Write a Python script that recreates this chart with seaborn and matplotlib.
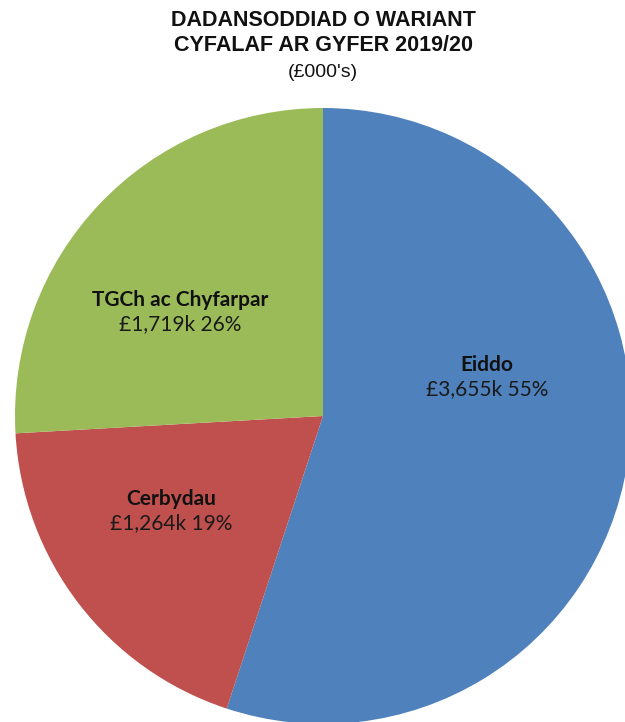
import matplotlib
matplotlib.use("Agg")
import matplotlib.pyplot as plt
import seaborn as sns

# Data (values in £000's)
categories = ["Eiddo", "Cerbydau", "TGCh ac Chyfarpar"]
values = [3655, 1264, 1719]
value_labels = ["£3,655k 55%", "£1,264k 19%", "£1,719k 26%"]
colors = ["#4F81BD", "#C0504D", "#9BBB59"]

sns.set_style("white")
plt.rcParams["font.family"] = ["Liberation Sans", "DejaVu Sans"]

fig = plt.figure(figsize=(6.25, 7.22), dpi=100)

# title block
fig.text(0.517, 0.972, "DADANSODDIAD O WARIANT", ha="center", va="center",
         fontsize=15.5, fontweight="bold", color="#111111")
fig.text(0.517, 0.937, "CYFALAF AR GYFER 2019/20", ha="center", va="center",
         fontsize=15.5, fontweight="bold", color="#111111")
fig.text(0.517, 0.900, "(£000's)", ha="center", va="center",
         fontsize=14, color="#111111")

# pie axes: centre approx (323, 416) px, radius approx 308 px
ax = fig.add_axes([15 / 625, -2 / 722, 616 / 625, 616 / 722])
ax.pie(values, colors=colors, startangle=90, counterclock=False,
       radius=1, wedgeprops=dict(linewidth=0))
ax.set_xlim(-1, 1)
ax.set_ylim(-1, 1)
ax.set_aspect("equal")
ax.axis("off")

# label positions (Excel "best fit" placement)
label_pos = [(0.532, 0.127), (-0.494, -0.308), (-0.464, 0.338)]
for name, val, (x, y) in zip(categories, value_labels, label_pos):
    ax.text(x, y + 0.039, name, ha="center", va="center", fontsize=15,
            fontweight="bold", family=["Lato", "DejaVu Sans"], color="#111111")
    ax.text(x, y - 0.039, val, ha="center", va="center", fontsize=15,
            family=["Lato", "DejaVu Sans"], color="#1a1a1a")

fig.savefig("out.png", dpi=100)
